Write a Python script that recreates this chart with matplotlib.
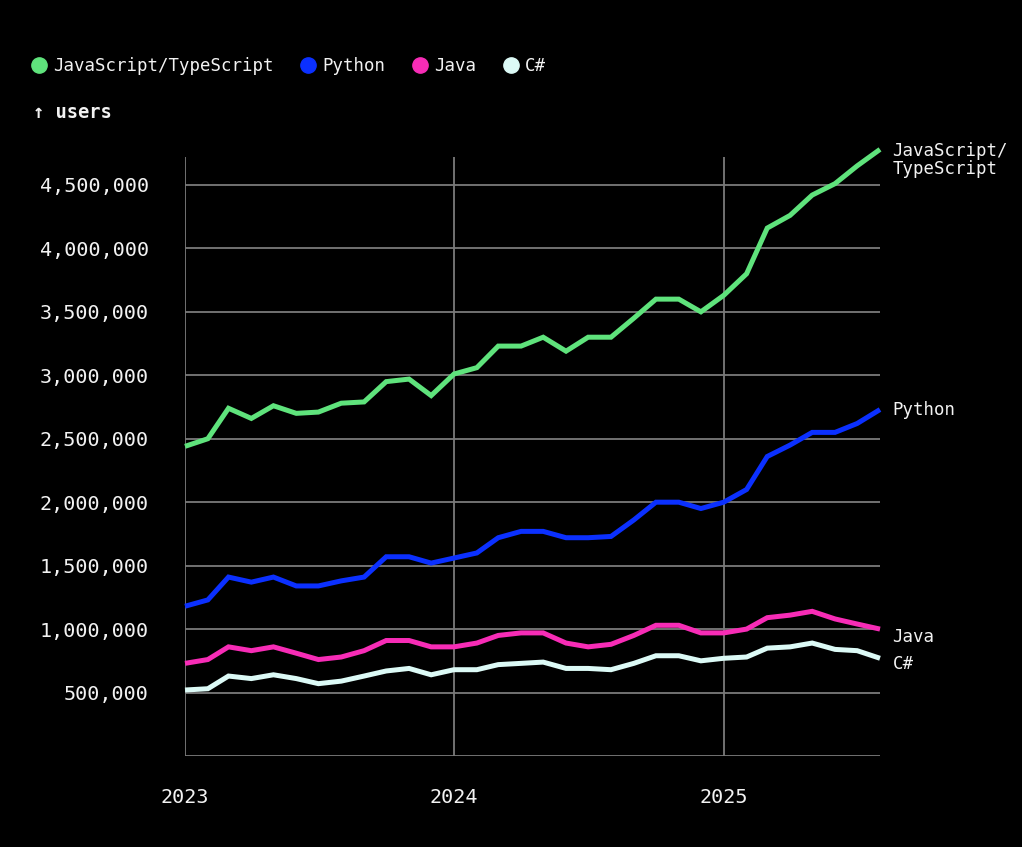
import matplotlib
matplotlib.use("Agg")
import matplotlib.pyplot as plt
import matplotlib.dates as mdates
from matplotlib.lines import Line2D
from matplotlib.ticker import FuncFormatter
import pandas as pd

# monthly users, Jan 2023 .. Aug 2025
months = pd.date_range("2023-01-01", "2025-08-01", freq="MS")

js_ts = [2.44, 2.50, 2.74, 2.66, 2.76, 2.70, 2.71, 2.78, 2.79, 2.95, 2.97, 2.84,
         3.01, 3.06, 3.23, 3.23, 3.30, 3.19, 3.30, 3.30, 3.45, 3.60, 3.60, 3.50,
         3.63, 3.80, 4.16, 4.26, 4.42, 4.51, 4.65, 4.78]
python = [1.18, 1.23, 1.41, 1.37, 1.41, 1.34, 1.34, 1.38, 1.41, 1.57, 1.57, 1.52,
          1.56, 1.60, 1.72, 1.77, 1.77, 1.72, 1.72, 1.73, 1.86, 2.00, 2.00, 1.95,
          2.00, 2.10, 2.36, 2.45, 2.55, 2.55, 2.62, 2.73]
java = [0.73, 0.76, 0.86, 0.83, 0.86, 0.81, 0.76, 0.78, 0.83, 0.91, 0.91, 0.86,
        0.86, 0.89, 0.95, 0.97, 0.97, 0.89, 0.86, 0.88, 0.95, 1.03, 1.03, 0.97,
        0.97, 1.00, 1.09, 1.11, 1.14, 1.08, 1.04, 1.00]
csharp = [0.52, 0.53, 0.63, 0.61, 0.64, 0.61, 0.57, 0.59, 0.63, 0.67, 0.69, 0.64,
          0.68, 0.68, 0.72, 0.73, 0.74, 0.69, 0.69, 0.68, 0.73, 0.79, 0.79, 0.75,
          0.77, 0.78, 0.85, 0.86, 0.89, 0.84, 0.83, 0.77]

names = ["JavaScript/TypeScript", "Python", "Java", "C#"]
end_labels = ["JavaScript/\nTypeScript", "Python", "Java", "C#"]
colors = ["#5fe37c", "#0b30ff", "#f72cb6", "#dcfaf6"]
series = [js_ts, python, java, csharp]
label_shift = [-2, 0, -6, -4]  # points, to keep end labels apart

year_ticks = pd.to_datetime(["2023-01-01", "2024-01-01", "2025-01-01"])
y_ticks = [500_000 * i for i in range(1, 10)]

BG = "#000000"
FG = "#f2f2f2"
GRID = "#7a7a7a"
FONT = "DejaVu Sans Mono"

plt.rcParams["font.family"] = FONT

fig = plt.figure(figsize=(10.22, 8.47), dpi=100, facecolor=BG)
ax = fig.add_axes([185 / 1022, 1 - 756 / 847, 695 / 1022, 599 / 847])
ax.set_facecolor(BG)

for vals, c in zip(series, colors):
    ax.plot(months, [v * 1e6 for v in vals], color=c, lw=3.6,
            solid_joinstyle="miter", solid_capstyle="butt", clip_on=False, zorder=3)

for vals, lab, c, dy in zip(series, end_labels, colors, label_shift):
    two_lines = "\n" in lab
    ax.annotate(lab, (months[-1], vals[-1] * 1e6), xytext=(9, dy + (7 if two_lines else 0)),
                textcoords="offset points", color=FG, fontsize=12.5,
                va="top" if two_lines else "center", ha="left",
                linespacing=0.95, annotation_clip=False)

ax.set_xlim(months[0], months[-1])
ax.set_ylim(0, 4_720_000)

# horizontal grid lines stop at 4.5M, vertical ones run to the top
for y in [0] + y_ticks:
    ax.axhline(y, color=GRID, lw=1.3, zorder=1)
for x in year_ticks:
    ax.axvline(x, color=GRID, lw=1.3, zorder=1)

ax.set_xticks(year_ticks)
ax.xaxis.set_major_formatter(mdates.DateFormatter("%Y"))
ax.set_yticks(y_ticks)
ax.yaxis.set_major_formatter(FuncFormatter(lambda v, p: f"{int(v):,}"))
ax.tick_params(axis="both", length=0, colors=FG, labelsize=14.5)
ax.tick_params(axis="x", pad=23)
ax.tick_params(axis="y", pad=26)
for s in ax.spines.values():
    s.set_visible(False)

handles = [Line2D([], [], ls="none", marker="o", ms=11, color=c) for c in colors]
leg = fig.legend(handles, names, loc="center left", bbox_to_anchor=(22 / 1022, 1 - 66 / 847),
                 ncol=4, frameon=False, fontsize=12.5, handletextpad=0.2,
                 columnspacing=1.4, handlelength=1.2, borderaxespad=0)
for t in leg.get_texts():
    t.set_color(FG)

fig.text(33 / 1022, 1 - 113 / 847, "↑ users", color=FG, fontsize=13.5,
         fontweight="bold", va="center", ha="left")

fig.savefig("out.png", dpi=100, facecolor=BG)
